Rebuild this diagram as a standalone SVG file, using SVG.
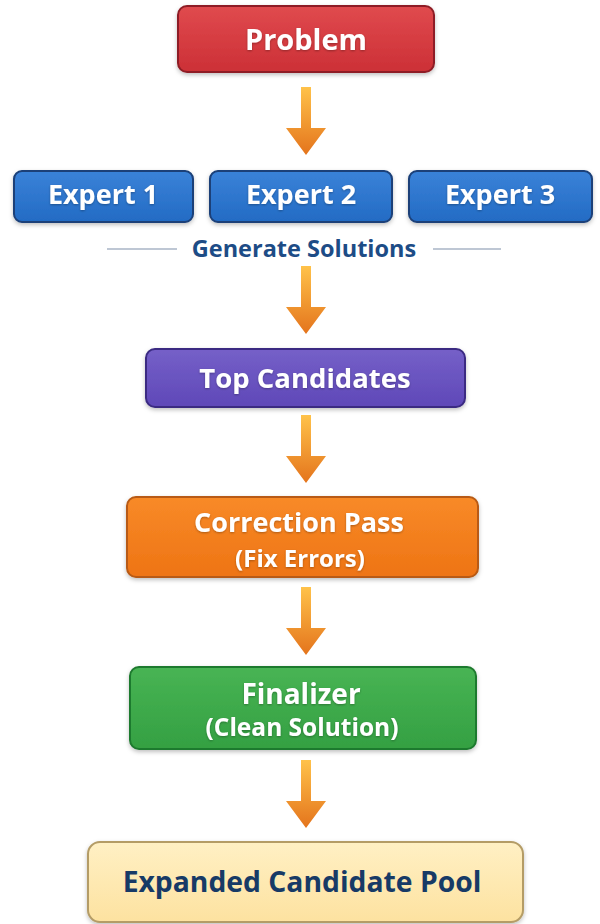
<svg xmlns="http://www.w3.org/2000/svg" width="600" height="924" viewBox="0 0 600 924">
<defs>
<linearGradient id="gArrow" x1="0" y1="0" x2="0" y2="1"><stop offset="0" stop-color="#ffc24a"/><stop offset="1" stop-color="#e4741c"/></linearGradient>
<linearGradient id="gRed" x1="0" y1="0" x2="0" y2="1"><stop offset="0" stop-color="#e04a4e"/><stop offset="1" stop-color="#cc3036"/></linearGradient>
<linearGradient id="gBlue" x1="0" y1="0" x2="0" y2="1"><stop offset="0" stop-color="#3a82d8"/><stop offset="1" stop-color="#236bc4"/></linearGradient>
<linearGradient id="gPurple" x1="0" y1="0" x2="0" y2="1"><stop offset="0" stop-color="#7560c8"/><stop offset="1" stop-color="#5f48b8"/></linearGradient>
<linearGradient id="gOrange" x1="0" y1="0" x2="0" y2="1"><stop offset="0" stop-color="#f88a28"/><stop offset="1" stop-color="#ee7414"/></linearGradient>
<linearGradient id="gGreen" x1="0" y1="0" x2="0" y2="1"><stop offset="0" stop-color="#48b454"/><stop offset="1" stop-color="#34a042"/></linearGradient>
<linearGradient id="gYellow" x1="0" y1="0" x2="0" y2="1"><stop offset="0" stop-color="#fff0c4"/><stop offset="1" stop-color="#fde2a0"/></linearGradient>
<filter id="shadow" x="-10%" y="-20%" width="120%" height="150%"><feDropShadow dx="0" dy="2" stdDeviation="2" flood-color="#000" flood-opacity="0.25"/></filter>
<filter id="tshadow" x="-10%" y="-30%" width="120%" height="160%"><feDropShadow dx="0" dy="1" stdDeviation="0.8" flood-color="#000" flood-opacity="0.3"/></filter>
<path id="arrow" d="M-5,0 H5 V41 H20 L0,68 L-20,41 H-5 Z"/>
</defs>
<style>
.box{stroke-width:2}
.t{font-family:"Open Sans","Noto Sans","DejaVu Sans",sans-serif;font-weight:700;text-anchor:middle;dominant-baseline:central}
.w{fill:#ffffff;filter:url(#tshadow)}
</style>
<rect width="600" height="924" fill="#ffffff"/>
<g id="connectors" fill="url(#gArrow)">
<use href="#arrow" x="306" y="87"/>
<g id="gen-label">
<line x1="107" y1="249" x2="177" y2="249" stroke="#a9b4c6" stroke-width="1.5"/>
<line x1="433" y1="249" x2="501" y2="249" stroke="#a9b4c6" stroke-width="1.5"/>
<text class="t" x="304" y="248" font-size="23.5" fill="#1d4c86">Generate Solutions</text>
</g>
<use href="#arrow" x="306" y="266"/>
<use href="#arrow" x="306" y="415"/>
<use href="#arrow" x="306" y="587"/>
<use href="#arrow" x="306" y="760"/>
</g>
<g id="problem">
<rect class="box" x="178" y="6" width="256" height="66" rx="9" fill="url(#gRed)" stroke="#8e1f25" filter="url(#shadow)"/>
<text class="t w" x="306" y="38" font-size="29">Problem</text>
</g>
<g id="expert1">
<rect class="box" x="14" y="171" width="179" height="51" rx="8" fill="url(#gBlue)" stroke="#1a3f78" filter="url(#shadow)"/>
<text class="t w" x="103" y="193" font-size="27">Expert 1</text>
</g>
<g id="expert2">
<rect class="box" x="210" y="171" width="182" height="51" rx="8" fill="url(#gBlue)" stroke="#1a3f78" filter="url(#shadow)"/>
<text class="t w" x="301" y="193" font-size="27">Expert 2</text>
</g>
<g id="expert3">
<rect class="box" x="409" y="171" width="183" height="51" rx="8" fill="url(#gBlue)" stroke="#1a3f78" filter="url(#shadow)"/>
<text class="t w" x="500" y="193" font-size="27">Expert 3</text>
</g>
<g id="top-candidates">
<rect class="box" x="146" y="349" width="319" height="58" rx="9" fill="url(#gPurple)" stroke="#3a2a82" filter="url(#shadow)"/>
<text class="t w" x="305" y="377" font-size="27.5">Top Candidates</text>
</g>
<g id="correction">
<rect class="box" x="127" y="497" width="351" height="80" rx="9" fill="url(#gOrange)" stroke="#b85a12" filter="url(#shadow)"/>
<text class="t w" x="299" y="521" font-size="27">Correction Pass</text>
<text class="t w" x="300" y="557" font-size="24">(Fix Errors)</text>
</g>
<g id="finalizer">
<rect class="box" x="130" y="667" width="346" height="82" rx="9" fill="url(#gGreen)" stroke="#1f7a2e" filter="url(#shadow)"/>
<text class="t w" x="301" y="693" font-size="28">Finalizer</text>
<text class="t w" x="302" y="726" font-size="24.5">(Clean Solution)</text>
</g>
<g id="pool">
<rect class="box" x="88" y="842" width="435" height="80" rx="12" fill="url(#gYellow)" stroke="#b49c66" filter="url(#shadow)"/>
<text class="t" x="302" y="881" font-size="28.3" fill="#173a66">Expanded Candidate Pool</text>
</g>
</svg>
